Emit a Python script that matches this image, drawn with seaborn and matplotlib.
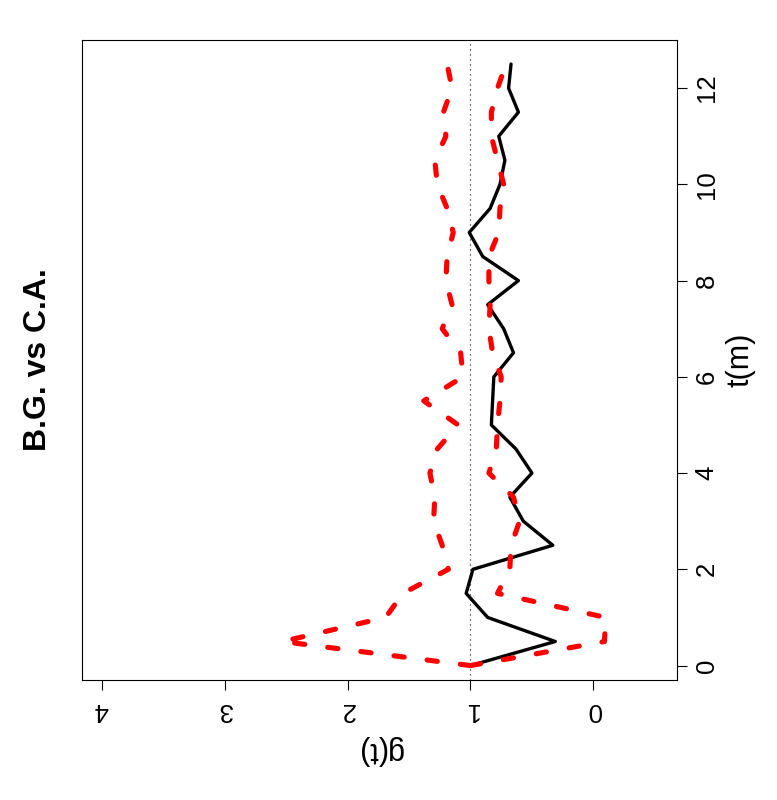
import pandas as pd
import seaborn as sns
import matplotlib
matplotlib.use('Agg')
import matplotlib.pyplot as plt

t_vals = [0.0, 0.5, 1.0, 1.5, 2.0, 2.5, 3.0, 3.5, 4.0, 4.5, 5.0, 5.5, 6.0,
          6.5, 7.0, 7.5, 8.0, 8.5, 9.0, 9.5, 10.0, 10.5, 11.0, 11.5, 12.0, 12.5]
g_obs = [1.00, 0.31, 0.86, 1.035, 0.98, 0.33, 0.57, 0.68, 0.50, 0.63, 0.83, 0.82, 0.81,
         0.65, 0.73, 0.86, 0.61, 0.90, 1.01, 0.84, 0.76, 0.72, 0.77, 0.61, 0.69, 0.67]
g_hi = [1.00, 2.53, 1.69, 1.55, 1.18, 1.23, 1.30, 1.29, 1.33, 1.27, 1.10, 1.38, 1.06,
        1.08, 1.23, 1.15, 1.20, 1.19, 1.14, 1.19, 1.27, 1.29, 1.20, 1.22, 1.15, 1.19]
g_lo = [1.00, -0.09, -0.10, 0.78, 0.68, 0.67, 0.60, 0.65, 0.85, 0.79, 0.78, 0.76, 0.75,
        0.82, 0.85, 0.84, 0.85, 0.85, 0.77, 0.76, 0.73, 0.78, 0.83, 0.83, 0.78, 0.71]

g_ticks = [0, 1, 2, 3, 4]
t_ticks = [0, 2, 4, 6, 8, 10, 12]
title = 'B.G. vs C.A.'

df = pd.DataFrame({'t': t_vals, 'obs': g_obs, 'hi': g_hi, 'lo': g_lo})

sns.set_style('white')
plt.rcParams['font.family'] = ['Liberation Sans', 'DejaVu Sans']
plt.rcParams['text.color'] = 'black'
plt.rcParams['axes.labelcolor'] = 'black'

W, H = 777, 800
fig = plt.figure(figsize=(W / 100, H / 100), dpi=100)
# plot box in pixels: x 82..677, y 40..680 (from top)
ax = fig.add_axes([82 / W, 1 - 680 / H, (677 - 82) / W, (680 - 40) / H])

# reference line at g = 1
ax.axvline(1, color='black', lw=0.8, linestyle=(0, (1, 3.5)), zorder=1)

# observed g(t) -- the whole chart is turned a quarter turn, so g runs along x
sns.lineplot(data=df, x='obs', y='t', orient='y', sort=False, estimator=None,
             color='black', lw=2.4, ax=ax, zorder=3)
for col in ['hi', 'lo']:
    sns.lineplot(data=df, x=col, y='t', orient='y', sort=False, estimator=None,
                 color='red', lw=3.7, linestyle=(0, (2.0, 4.5)),
                 dash_capstyle='round', ax=ax, zorder=4)

ax.set_xlim(4.16, -0.68)
ax.set_ylim(-0.30, 13.0)

ax.set_xticks(g_ticks)
ax.set_xticklabels([str(v) for v in g_ticks])
ax.set_yticks(t_ticks)
ax.set_yticklabels([str(v) for v in t_ticks])

ax.yaxis.tick_right()
ax.tick_params(axis='both', direction='out', length=7.2, width=0.8, color='black',
               labelsize=18.5, labelcolor='black')
ax.tick_params(axis='x', bottom=True, top=False, labelrotation=180, pad=5.5)
ax.tick_params(axis='y', right=True, left=False, labelrotation=90, pad=5.5)
for lab in ax.get_yticklabels():
    lab.set_va('center')

for s in ax.spines.values():
    s.set_visible(True)
    s.set_color('black')
    s.set_linewidth(0.8)

ax.set_xlabel('g(t)', fontsize=22, rotation=180, va='center', color='black')
ax.xaxis.set_label_coords(0.5, -0.11)
ax.yaxis.set_label_position('right')
ax.set_ylabel('t(m)', fontsize=22, rotation=90, va='center', color='black')
ax.yaxis.set_label_coords((740 - 82) / (677 - 82), 0.5)

fig.text(38 / W, 1 - 360 / H, title, rotation=90, ha='center', va='center',
         fontsize=23, fontweight='bold', color='black')

fig.savefig('out.png', dpi=100)
